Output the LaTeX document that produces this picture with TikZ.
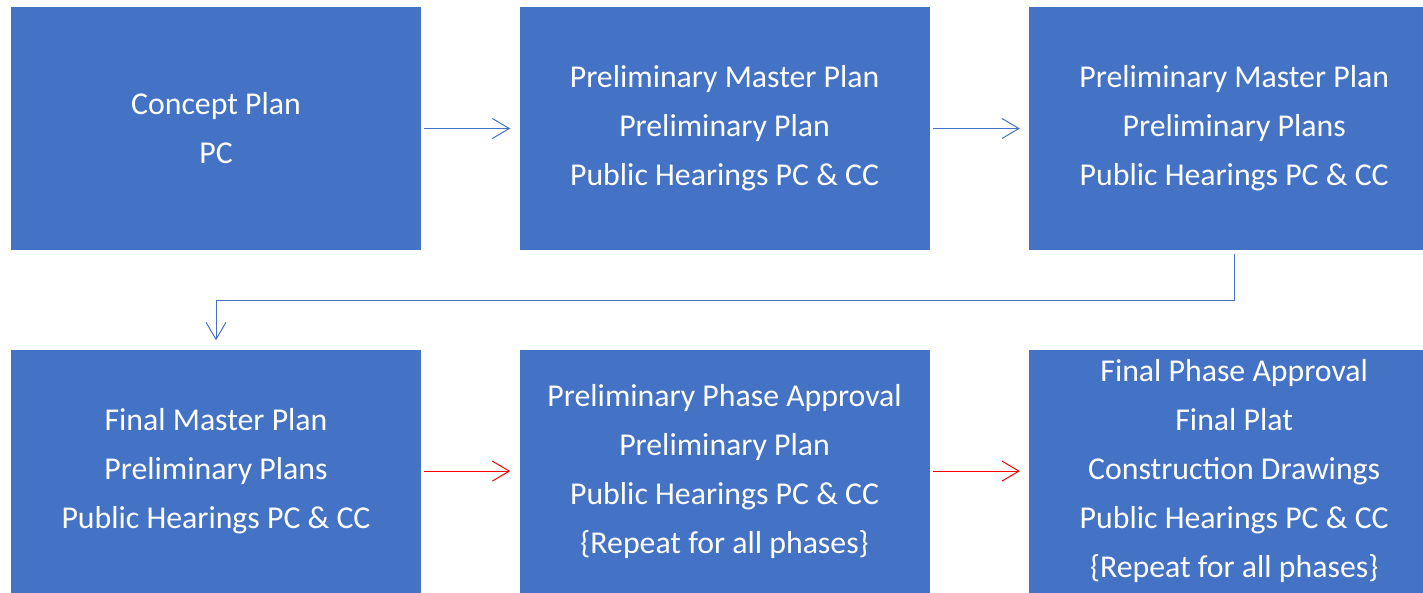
\documentclass[tikz,border=0pt]{standalone}
\usepackage{fontspec}
\setmainfont{Carlito}
\usetikzlibrary{arrows.meta,positioning}

\definecolor{boxblue}{HTML}{4472C4}

\begin{document}
\begin{tikzpicture}[
                    x=1pt,
                    y=1pt,
                    node distance=98pt and 98pt,
                    semithick,
                    stage/.style={fill=boxblue, text=white, align=center,
                        minimum width=410pt, minimum height=243pt, inner sep=0pt,
                        font=\fontsize{31.8}{49}\selectfont},
                    flow/.style={draw=boxblue, line width=1pt,
                        -{Straight Barb[length=17pt,width=20pt]},
                        shorten <=3pt, shorten >=9pt},
                    phaseflow/.style={flow, draw=red}
                ]
                \fill[white] (0,0) rectangle (1423,-592);
                \clip (0,0) rectangle (1423,-592);

                \node[stage] (concept) at (216,-128.5) {Concept Plan\\PC} ;
                \node[stage] (prelim-master) [right=of concept]
                    {Preliminary Master Plan\\Preliminary Plan\\Public Hearings PC \& CC} ;
                \node[stage] (prelim-plans) [right=99pt of prelim-master]
                    {Preliminary Master Plan\\Preliminary Plans\\Public Hearings PC \& CC} ;

                \node[stage] (final-master) [below=99pt of concept]
                    {Final Master Plan\\Preliminary Plans\\Public Hearings PC \& CC} ;
                \node[stage] (prelim-phase) [right=of final-master]
                    {Preliminary Phase Approval\\Preliminary Plan\\Public Hearings PC \& CC\\\{Repeat for all phases\}} ;
                \node[stage] (final-phase) [right=99pt of prelim-phase]
                    {Final Phase Approval\\Final Plat\\Construction Drawings\\Public Hearings PC \& CC\\\{Repeat for all phases\}} ;

                \draw[flow] (concept) -- (prelim-master) ;
                \draw[flow] (prelim-master) -- (prelim-plans) ;
                \draw[flow, shorten <=4pt] (prelim-plans.south) -- ++(0,-50) -| (final-master.north) ;
                \draw[phaseflow] (final-master) -- (prelim-phase) ;
                \draw[phaseflow] (prelim-phase) -- (final-phase) ;
            \end{tikzpicture}
\end{document}
